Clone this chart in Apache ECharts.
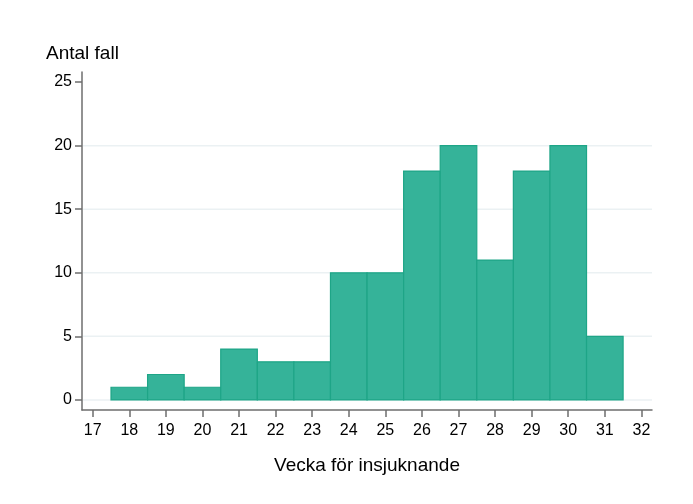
<!DOCTYPE html>
<html><head><meta charset="utf-8">
<script src="https://cdn.jsdelivr.net/npm/echarts@6/dist/echarts.min.js"></script>
<style>html,body{margin:0;padding:0;background:#fff}#c{width:693px;height:504px}</style>
</head><body><div id="c"></div>
<script>
const weeks = [18,19,20,21,22,23,24,25,26,27,28,29,30,31];
const cases = [1,2,1,4,3,3,10,10,18,20,11,18,20,5];
const xTicks = [17,18,19,20,21,22,23,24,25,26,27,28,29,30,31,32];
const yTicks = [0,5,10,15,20,25];
const gridValues = [0,5,10,15,20];
const yTitle = 'Antal fall';
const xTitle = 'Vecka för insjuknande';

const font = 'Liberation Sans, Arial, sans-serif';
const X_MIN = 16.707, X_MAX = 32.29;
const chart = echarts.init(document.getElementById('c'), null, {renderer:'canvas'});
const data = weeks.map((w,i)=>[w,cases[i]]);
chart.setOption({
  animation:false,
  title:{text:yTitle,left:46,top:44,padding:0,textStyle:{fontFamily:font,fontSize:19,fontWeight:'normal',color:'#000'}},
  grid:{left:82,right:41,top:72,bottom:94,containLabel:false},
  xAxis:{type:'value',min:X_MIN,max:X_MAX,
    name:xTitle,nameLocation:'middle',nameGap:46,
    nameTextStyle:{fontFamily:font,fontSize:19,color:'#000'},
    axisLine:{show:true,onZero:false,lineStyle:{color:'#6e6e6e',width:1.5}},
    axisTick:{show:true,customValues:xTicks,length:7,lineStyle:{color:'#6e6e6e',width:1.5}},
    axisLabel:{customValues:xTicks,fontFamily:font,fontSize:16,color:'#000',margin:13},
    splitLine:{show:false}},
  yAxis:{type:'value',min:-0.79,max:25.79,
    axisLine:{show:true,onZero:false,lineStyle:{color:'#6e6e6e',width:1.5}},
    axisTick:{show:true,customValues:yTicks,length:7,lineStyle:{color:'#6e6e6e',width:1.5}},
    axisLabel:{customValues:yTicks,fontFamily:font,fontSize:16,color:'#000',margin:10},
    splitLine:{show:false}},
  series:[
    {type:'custom',z:1,silent:true,data:gridValues.map(v=>[v]),
     renderItem:function(params,api){
       const v=api.value(0);
       const a=api.coord([X_MIN,v]), b=api.coord([X_MAX,v]);
       return {type:'line',shape:{x1:a[0]+1,y1:a[1],x2:b[0],y2:b[1]},
         style:{stroke:'#ebf1f3',lineWidth:1.5}};
     }},
    {type:'custom',z:2,data:data,
     renderItem:function(params,api){
       const x=api.value(0), y=api.value(1);
       const p1=api.coord([x-0.5,y]); const p2=api.coord([x+0.5,0]);
       return {type:'rect',shape:{x:p1[0],y:p1[1],width:p2[0]-p1[0],height:p2[1]-p1[1]},
         style:{fill:'#35b399',stroke:'#1ea587',lineWidth:1.2}};
     }}
  ]
});
</script></body></html>
